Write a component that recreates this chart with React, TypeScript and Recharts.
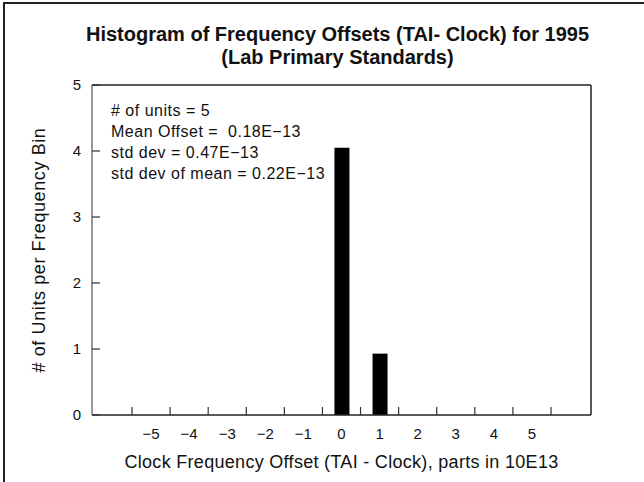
import { Bar, BarChart, Label, ReferenceLine, XAxis, YAxis } from "recharts";

// histogram bins (bin centre, # of units)
const binCenters = [0, 1];
const unitCounts = [4.05, 0.93];

// tick marks sit on the bin edges, labels on the bin centres
const binEdges = [-5.5, -4.5, -3.5, -2.5, -1.5, -0.5, 0.5, 1.5, 2.5, 3.5, 4.5, 5.5];
const xLabels = [-5, -4, -3, -2, -1, 0, 1, 2, 3, 4, 5];
const yTicks = [0, 1, 2, 3, 4, 5];

const statLines = [
  "# of units = 5",
  "Mean Offset =  0.18E\u221213",
  "std dev = 0.47E\u221213",
  "std dev of mean = 0.22E\u221213",
];

const data = binCenters.map((c, i) => ({ offset: c, units: unitCounts[i] }));
const xTicks = [...binEdges, ...xLabels].sort((a, b) => a - b);

const FONT = "'Liberation Sans', Arial, sans-serif";

const fmt = (v: number) => (v < 0 ? `\u2212${-v}` : `${v}`);

const XTick = (props: any) => {
  const { x, y, payload } = props;
  const v = payload.value;
  if (!Number.isInteger(v)) {
    return <line x1={x} x2={x} y1={y} y2={y - 8} stroke="#333" strokeWidth={1.2} />;
  }
  return (
    <text x={x} y={y + 24} textAnchor="middle" fontSize={15} fontFamily={FONT} fill="#111">
      {fmt(v)}
    </text>
  );
};

const YTick = (props: any) => {
  const { x, y, payload } = props;
  return (
    <g>
      <line x1={x} x2={x + 8} y1={y} y2={y} stroke="#333" strokeWidth={1.2} />
      <text x={x - 11} y={y + 5} textAnchor="end" fontSize={15} fontFamily={FONT} fill="#111">
        {payload.value}
      </text>
    </g>
  );
};

export default function App() {
  return (
    <div style={{ position: "absolute", left: 0, top: 0, width: 644, height: 482, background: "#fff", overflow: "hidden" }}>
      <div style={{ position: "absolute", left: 3, top: 2, width: 700, height: 600, borderLeft: "2px solid #222", borderTop: "2px solid #222" }} />
      <div
        style={{
          position: "absolute",
          left: 0,
          width: 675,
          top: 23,
          textAlign: "center",
          fontFamily: FONT,
          fontWeight: "bold",
          fontSize: 20,
          lineHeight: "23px",
          color: "#111",
        }}
      >
        Histogram of Frequency Offsets (TAI- Clock) for 1995
        <br />
        (Lab Primary Standards)
      </div>
      <div
        style={{
          position: "absolute",
          left: 111,
          top: 100,
          fontFamily: FONT,
          fontSize: 16,
          letterSpacing: 0.5,
          lineHeight: "21px",
          color: "#111",
          whiteSpace: "pre",
        }}
      >
        {statLines.map((s) => (
          <div key={s}>{s}</div>
        ))}
      </div>
      <BarChart width={644} height={482} data={data} margin={{ top: 85, right: 53, left: 0, bottom: 0 }}>
        <XAxis
          dataKey="offset"
          type="number"
          domain={[-6.55, 6.55]}
          ticks={xTicks}
          interval={0}
          tickLine={false}
          tickSize={0}
          tickMargin={0}
          tick={<XTick />}
          height={67}
          stroke="#222"
          strokeWidth={1.5}
        >
          <Label
            content={({ viewBox }: any) => (
              <text
                x={viewBox.x + viewBox.width / 2}
                y={viewBox.y + 53}
                textAnchor="middle"
                fontSize={18}
                letterSpacing={0.3}
                fontFamily={FONT}
                fill="#111"
              >
                Clock Frequency Offset (TAI - Clock), parts in 10E13
              </text>
            )}
          />
        </XAxis>
        <YAxis
          type="number"
          domain={[0, 5]}
          ticks={yTicks}
          interval={0}
          tickLine={false}
          tickSize={0}
          tickMargin={0}
          tick={<YTick />}
          width={92}
          stroke="#777"
          strokeWidth={1.5}
        >
          <Label
            content={({ viewBox }: any) => {
              const cx = 40;
              const cy = viewBox.y + viewBox.height / 2;
              return (
                <text
                  x={cx}
                  y={cy}
                  transform={`rotate(-90 ${cx} ${cy})`}
                  textAnchor="middle"
                  dominantBaseline="middle"
                  fontSize={18}
                  letterSpacing={0.6}
                  fontFamily={FONT}
                  fill="#111"
                >
                  # of Units per Frequency Bin
                </text>
              );
            }}
          />
        </YAxis>
        <ReferenceLine y={5} stroke="#222" strokeWidth={1.5} ifOverflow="visible" />
        <ReferenceLine x={6.55} stroke="#222" strokeWidth={1.5} ifOverflow="visible" />
        <Bar dataKey="units" fill="#000" barSize={15} isAnimationActive={false} />
      </BarChart>
    </div>
  );
}
